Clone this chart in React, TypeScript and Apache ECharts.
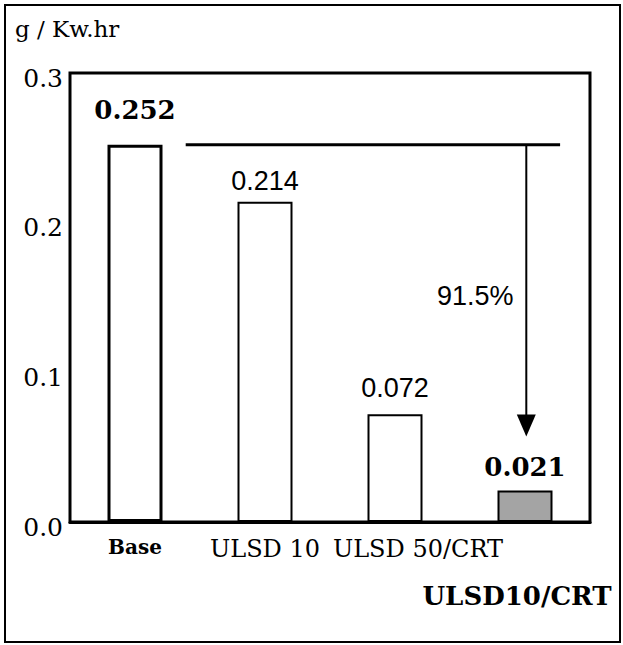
import React, { useEffect, useRef } from "react";
import * as echarts from "echarts";

const categories = ["Base", "ULSD 10", "ULSD 50/CRT", "ULSD10/CRT"];
const values = [0.252, 0.214, 0.072, 0.021];
const valueLabels = ["0.252", "0.214", "0.072", "0.021"];
const yTicks = [0, 0.1, 0.2, 0.3];
const reductionLabel = "91.5%";
const unitLabel = "g / Kw.hr";

const SERIF = "DejaVu Serif";
const SANS = "Liberation Sans";

export default function App() {
  const ref = useRef<HTMLDivElement>(null);

  useEffect(() => {
    if (!ref.current) return;
    const chart = echarts.init(ref.current, undefined, { renderer: "svg" });

    const labelStyles = [
      { fontFamily: SERIF, fontWeight: "bold", fontSize: 26, distance: 22 },
      { fontFamily: SANS, fontWeight: "normal", fontSize: 27, distance: 7 },
      { fontFamily: SANS, fontWeight: "normal", fontSize: 27, distance: 13 },
      { fontFamily: SERIF, fontWeight: "bold", fontSize: 26, distance: 11 },
    ];
    const barStyles = [
      { color: "#ffffff", borderColor: "#000", borderWidth: 3 },
      { color: "#ffffff", borderColor: "#000", borderWidth: 2 },
      { color: "#ffffff", borderColor: "#000", borderWidth: 2 },
      { color: "#a4a4a4", borderColor: "#000", borderWidth: 2 },
    ];
    const catStyles: any[] = [
      { fontWeight: "bold", fontSize: 20 },
      { fontWeight: "normal", fontSize: 24 },
      { fontWeight: "normal", fontSize: 24, padding: [0, 0, 0, 46] },
      { fontWeight: "bold", fontSize: 26, padding: [46, 16, 0, 0] },
    ];

    const option: any = {
      animation: false,
      backgroundColor: "#ffffff",
      grid: {
        left: 70,
        top: 73,
        right: 33,
        bottom: 123,
        show: true,
        borderColor: "#000",
        borderWidth: 3,
        backgroundColor: "transparent",
      },
      xAxis: {
        type: "category",
        data: categories.map((c, i) => ({
          value: c,
          textStyle: { fontFamily: SERIF, color: "#000", ...catStyles[i] },
        })),
        axisLine: { show: true, lineStyle: { color: "#000", width: 3 } },
        axisTick: { show: false },
        axisLabel: {
          color: "#000",
          fontFamily: SERIF,
          margin: 15,
          interval: 0,
        },
        splitLine: { show: false },
      },
      yAxis: {
        type: "value",
        min: yTicks[0],
        max: yTicks[yTicks.length - 1],
        interval: 0.1,
        axisLine: { show: false },
        axisTick: { show: false },
        splitLine: { show: false },
        axisLabel: {
          margin: 7,
          formatter: (v: number) => "{t|" + v.toFixed(1) + "}",
          rich: {
            t: {
              fontFamily: SERIF,
              fontSize: 25,
              color: "#000",
              padding: [10, 0, 0, 0],
            },
          },
        },
      },
      series: [
        {
          type: "bar",
          barWidth: 55,
          data: values.map((v, i) => ({
            value: v,
            itemStyle: barStyles[i],
            label: {
              show: true,
              position: "top",
              formatter: valueLabels[i],
              color: "#000",
              fontFamily: labelStyles[i].fontFamily,
              fontWeight: labelStyles[i].fontWeight,
              fontSize: labelStyles[i].fontSize,
              distance: labelStyles[i].distance,
            },
          })),
        },
      ],
    };

    chart.setOption(option);

    const c0 = chart.convertToPixel({ xAxisIndex: 0 }, categories[0]) as number;
    const c1 = chart.convertToPixel({ xAxisIndex: 0 }, categories[1]) as number;
    const c3 = chart.convertToPixel({ xAxisIndex: 0 }, categories[3]) as number;
    const catW = c1 - c0;
    const yTop = chart.convertToPixel({ yAxisIndex: 0 }, values[0]) as number;
    const yLast = chart.convertToPixel({ yAxisIndex: 0 }, values[3]) as number;
    const lineStart = c0 + 0.39 * catW;
    const lineEnd = c3 + 0.27 * catW;
    const ax = c3 + 0.01 * catW;
    const tipY = yLast - 54;
    const headH = 22;
    const headW = 19;

    chart.setOption({
      graphic: [
        {
          type: "rect",
          shape: { x: 5, y: 5, width: 615, height: 637 },
          style: { fill: "none", stroke: "#000", lineWidth: 2 },
          silent: true,
        },
        {
          type: "text",
          x: 15,
          y: 17,
          style: {
            text: "{u|" + unitLabel + "}",
            rich: {
              u: { fontFamily: SERIF, fontSize: 23, color: "#000" },
            },
          },
        },
        {
          type: "line",
          shape: { x1: lineStart, y1: yTop, x2: lineEnd, y2: yTop },
          style: { stroke: "#000", lineWidth: 3 },
        },
        {
          type: "line",
          shape: { x1: ax, y1: yTop, x2: ax, y2: tipY - headH + 2 },
          style: { stroke: "#000", lineWidth: 2 },
        },
        {
          type: "polygon",
          shape: {
            points: [
              [ax - headW / 2, tipY - headH],
              [ax + headW / 2, tipY - headH],
              [ax, tipY],
            ],
          },
          style: { fill: "#000" },
        },
        {
          type: "text",
          x: ax - 51,
          y: (yTop + tipY) / 2 + 5,
          style: {
            text: reductionLabel,
            fontFamily: SANS,
            fontSize: 27,
            fill: "#000",
            align: "center",
            verticalAlign: "middle",
          },
        },
      ],
    });

    return () => chart.dispose();
  }, []);

  return (
    <div
      ref={ref}
      style={{ position: "absolute", left: 0, top: 0, width: 623, height: 645 }}
    />
  );
}
